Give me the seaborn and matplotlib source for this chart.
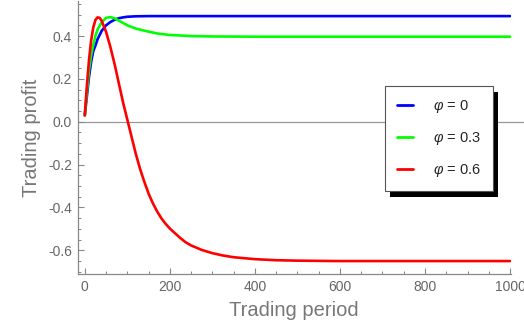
import numpy as np
import pandas as pd
import matplotlib
matplotlib.use('Agg')
import matplotlib.pyplot as plt
from matplotlib.ticker import MultipleLocator
from matplotlib.patches import Rectangle
import seaborn as sns

# 数据
t_blue = [0, 5, 10, 15, 20, 25, 30, 40, 50, 60, 70, 80, 90, 100, 120, 150, 200, 400, 1000]
v_blue = [0.03, 0.12, 0.21, 0.28, 0.33, 0.355, 0.385, 0.425, 0.45, 0.465, 0.476, 0.483, 0.487, 0.49, 0.492, 0.493, 0.493, 0.493, 0.493]

t_green = [0, 5, 10, 15, 20, 25, 30, 40, 50, 60, 70, 80, 100, 120, 140, 170, 200, 250, 300, 400, 1000]
v_green = [0.03, 0.14, 0.24, 0.31, 0.36, 0.40, 0.43, 0.465, 0.485, 0.488, 0.483, 0.472, 0.45, 0.435, 0.425, 0.412, 0.405, 0.40, 0.398, 0.397, 0.397]

t_red = [0, 5, 10, 15, 20, 25, 30, 35, 40, 50, 60, 70, 80, 90, 100, 110, 120, 130, 140, 150, 160, 170, 180,
         190, 200, 212, 225, 237, 250, 275, 300, 325, 350, 400, 450, 500, 600, 1000]
v_red = [0.03, 0.17, 0.29, 0.38, 0.44, 0.475, 0.487, 0.485, 0.47, 0.42, 0.35, 0.27, 0.18, 0.09, 0.01, -0.07,
         -0.15, -0.22, -0.28, -0.335, -0.38, -0.418, -0.45, -0.476, -0.498, -0.52, -0.543, -0.562, -0.577,
         -0.598, -0.613, -0.624, -0.632, -0.641, -0.646, -0.648, -0.65, -0.65]

labels = ['$\\varphi$ = 0', '$\\varphi$ = 0.3', '$\\varphi$ = 0.6']
colors = ['#0000ff', '#00ff00', '#ff0000']

df = pd.concat([
    pd.DataFrame({'period': t_blue, 'profit': v_blue, 'phi': labels[0]}),
    pd.DataFrame({'period': t_green, 'profit': v_green, 'phi': labels[1]}),
    pd.DataFrame({'period': t_red, 'profit': v_red, 'phi': labels[2]}),
])

sns.set_style('white')
plt.rcParams['font.family'] = ['Liberation Sans', 'DejaVu Sans']
plt.rcParams['mathtext.fontset'] = 'custom'
plt.rcParams['mathtext.it'] = 'Liberation Sans:italic'
plt.rcParams['mathtext.rm'] = 'Liberation Sans'

fig = plt.figure(figsize=(5.24, 3.35), dpi=100)
ax = fig.add_axes([0.148, 0.181, 0.827, 0.817])

sns.lineplot(data=df, x='period', y='profit', hue='phi', palette=colors, linewidth=1.9, ax=ax, legend=True)

ax.axhline(0, color='#999999', lw=0.9, zorder=0.5, xmax=1.03, clip_on=False)
ax.set_xlim(-17, 1002)
ax.set_ylim(-0.712, 0.565)

gray = '#777777'
for s in ['top', 'right']:
    ax.spines[s].set_visible(False)
for s in ['left', 'bottom']:
    ax.spines[s].set_color('#888888')
    ax.spines[s].set_linewidth(0.9)

ax.xaxis.set_major_locator(MultipleLocator(200))
ax.xaxis.set_minor_locator(MultipleLocator(50))
ax.yaxis.set_major_locator(MultipleLocator(0.2))
ax.yaxis.set_minor_locator(MultipleLocator(0.05))
ax.tick_params(which='major', direction='in', length=4, width=0.8, color='#888888',
               labelsize=10, labelcolor='#666666', pad=4)
ax.tick_params(which='minor', direction='in', length=2, width=0.7, color='#888888')
ax.tick_params(axis='x', which='both', bottom=True)
ax.tick_params(axis='y', which='both', left=True)
ax.yaxis.set_major_formatter(matplotlib.ticker.FormatStrFormatter('%.1f'))

ax.set_xlabel('Trading period', fontsize=14.5, color=gray, labelpad=5)
ax.set_ylabel('Trading profit', fontsize=14.5, color=gray, labelpad=5)

handles, _ = ax.get_legend_handles_labels()
leg = ax.legend(handles, labels, loc='upper left', bbox_to_anchor=(385 / 524, 1 - 86 / 335),
                bbox_transform=fig.transFigure, borderaxespad=0, frameon=True, fancybox=False,
                fontsize=10.5, handlelength=1.1, handletextpad=1.4, labelspacing=1.05,
                borderpad=0.8, title=None)
leg.get_frame().set_edgecolor('#555555')
leg.get_frame().set_linewidth(0.8)
leg.get_frame().set_alpha(1)
leg.set_zorder(10)
for line in leg.get_lines():
    line.set_linewidth(2)

# 图例阴影
fig.canvas.draw()
bb = leg.get_window_extent()
shadow = Rectangle((bb.x0 + 5, bb.y0 - 6), bb.width, bb.height, transform=None,
                   facecolor='black', edgecolor='none', zorder=9, clip_on=False)
ax.add_artist(shadow)

fig.savefig('out.png', dpi=100)
